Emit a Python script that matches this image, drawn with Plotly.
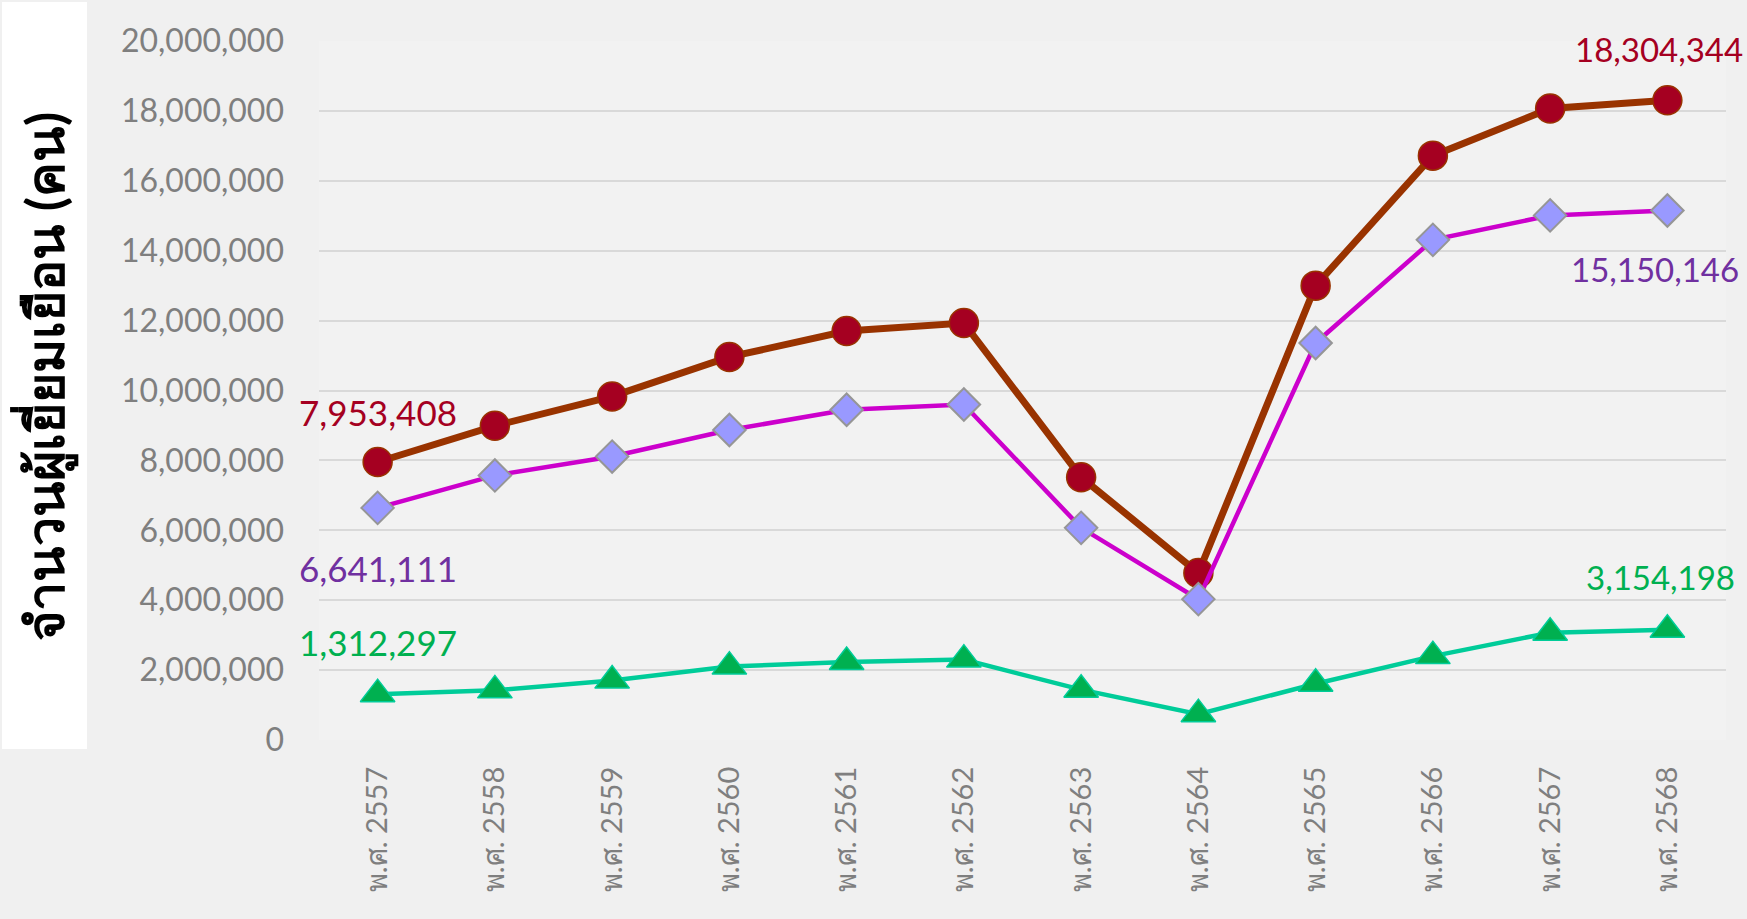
import plotly.graph_objects as go

years = ["พ.ศ. 2557", "พ.ศ. 2558", "พ.ศ. 2559", "พ.ศ. 2560", "พ.ศ. 2561", "พ.ศ. 2562",
         "พ.ศ. 2563", "พ.ศ. 2564", "พ.ศ. 2565", "พ.ศ. 2566", "พ.ศ. 2567", "พ.ศ. 2568"]
total = [7953408, 8990000, 9830000, 10960000, 11700000, 11930000,
         7520000, 4780000, 13000000, 16720000, 18070000, 18304344]
thai = [6641111, 7570000, 8110000, 8870000, 9450000, 9600000,
        6070000, 4030000, 11360000, 14310000, 15010000, 15150146]
foreign = [1312297, 1420000, 1700000, 2100000, 2230000, 2300000,
           1440000, 740000, 1610000, 2400000, 3070000, 3154198]
y_ticks = list(range(0, 20000001, 2000000))
y_title = "จำนวนผู้เยี่ยมเยือน (คน)"

FONT = "Lato, Noto Sans, sans-serif"

W, H = 1747, 919
L, R, T, B = 319, 21, 41, 179
pw, ph = W - L - R, H - T - B

def px_x(p):
    return (p - L) / pw

def px_y(p):
    return (H - B - p) / ph

fig = go.Figure()
fig.add_trace(go.Scatter(
    x=years, y=total, mode="lines+markers", name="total",
    line=dict(color="#993300", width=7),
    marker=dict(symbol="circle", size=29, color="#A50021",
                line=dict(color="#993300", width=1.5)),
))
fig.add_trace(go.Scatter(
    x=years, y=thai, mode="lines+markers", name="thai",
    line=dict(color="#CC00CC", width=4.5),
    marker=dict(symbol="diamond", size=25, color="#9999FF",
                line=dict(color="#969696", width=2)),
))
fig.add_trace(go.Scatter(
    x=years, y=foreign, mode="lines+markers", name="foreign",
    line=dict(color="#00CC99", width=4.5),
    marker=dict(symbol="triangle-up", size=30, color="#00B050",
                line=dict(color="#00CC99", width=1.5)),
))

ann = []
def lab(i, series, color, shift, size=35, anchor="center", xshift=0):
    ann.append(dict(x=years[i], y=series[i], xref="x", yref="y",
                    text=f"{series[i]:,}", showarrow=False,
                    yshift=shift, xshift=xshift, xanchor=anchor,
                    font=dict(family=FONT, size=size, color=color)))

lab(0, total, "#A50021", 50)
lab(0, thai, "#7030A0", -60)
lab(0, foreign, "#00B050", 52)
lab(11, total, "#A50021", 51, size=33, anchor="right", xshift=78)
lab(11, thai, "#7030A0", -58, size=33, anchor="right", xshift=74)
lab(11, foreign, "#00B050", 53, size=33, anchor="right", xshift=70)

ann.append(dict(x=px_x(44), y=px_y(377), xref="paper", yref="paper",
                xanchor="center", yanchor="middle",
                text=y_title, textangle=-90, showarrow=False,
                font=dict(family=FONT, size=52, color="#000000", weight="bold")))

fig.update_layout(
    width=W, height=H,
    margin=dict(l=L, r=R, t=T, b=B),
    paper_bgcolor="#f0f0f0", plot_bgcolor="#f2f2f2",
    showlegend=False,
    annotations=ann,
    shapes=[dict(type="rect", xref="paper", yref="paper",
                 x0=px_x(2), x1=px_x(87), y0=px_y(749), y1=px_y(2),
                 fillcolor="#ffffff", line=dict(width=0), layer="below")],
    xaxis=dict(
        range=[-0.5, len(years) - 0.5],
        tickangle=-90, tickfont=dict(family=FONT, size=29, color="#7f7f7f"),
        showgrid=False, showline=False, zeroline=False,
        ticklabelstandoff=20,
    ),
    yaxis=dict(
        range=[0, 20000000], tickvals=y_ticks,
        tickformat=",d",
        tickfont=dict(family=FONT, size=32, color="#7f7f7f"),
        showgrid=True, gridcolor="#d9d9d9", gridwidth=2,
        zeroline=False, showline=False,
        ticklabelstandoff=34,
    ),
)

fig.write_html("out.html",
               config={"displayModeBar": False},
               post_script="document.body.style.margin='0';document.body.style.overflow='hidden';")
